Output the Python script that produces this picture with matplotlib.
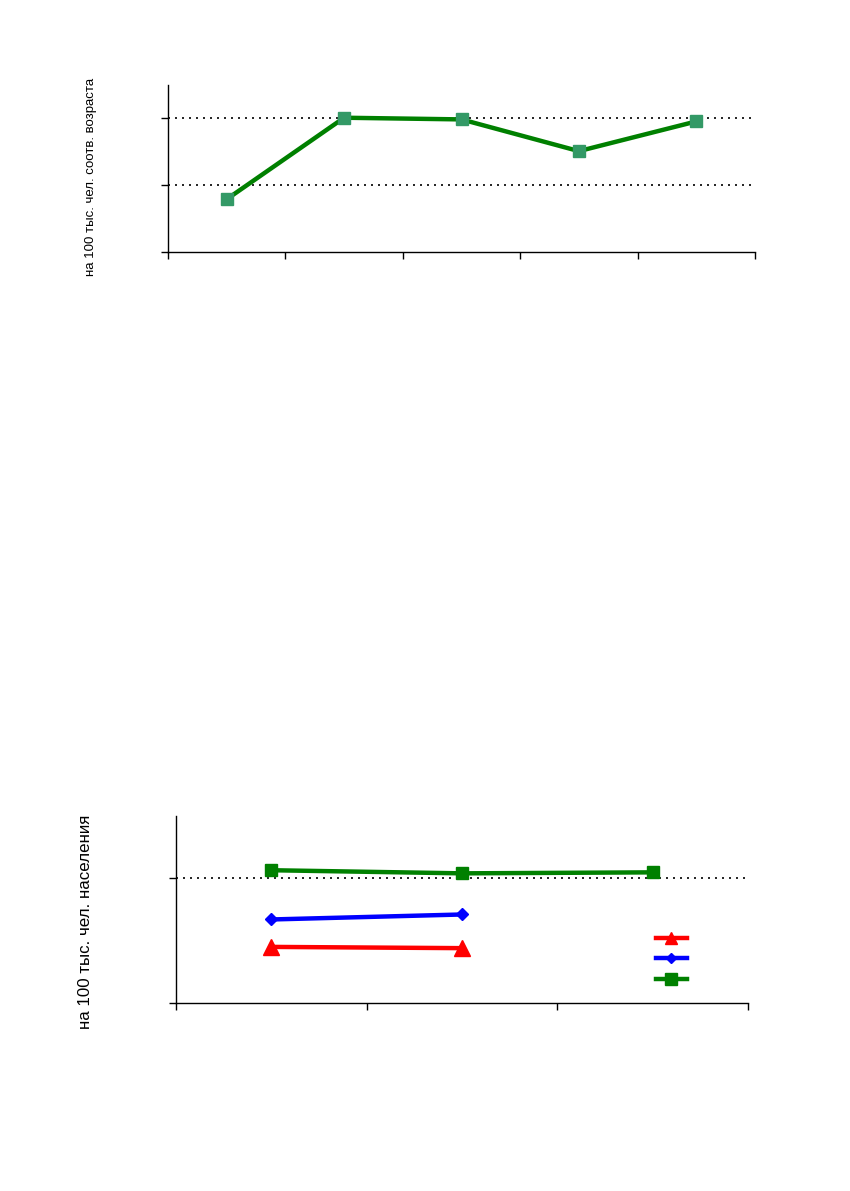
import numpy as np
import matplotlib
matplotlib.use('Agg')
import matplotlib.pyplot as plt
from matplotlib.lines import Line2D

plt.rcParams['font.family'] = ['Liberation Sans', 'DejaVu Sans']

# === Top chart: one series, five periods (labels not shown in the source) ===
TOP_VALUES = [0.79, 2.01, 1.985, 1.51, 1.955]
TOP_YLABEL = 'на 100 тыс. чел. соотв. возраста'

# === Bottom chart: three series over three periods ===
BOTTOM_RED = [0.45, 0.44]
BOTTOM_BLUE = [0.67, 0.71]
BOTTOM_GREEN = [1.065, 1.04, 1.048]
BOTTOM_YLABEL = 'на 100 тыс. чел. населения'

W, H = 850, 1191
fig = plt.figure(figsize=(W / 100, H / 100), dpi=100)


def px_axes(left, top, right, bottom):
    return fig.add_axes([left / W, 1 - bottom / H, (right - left) / W, (bottom - top) / H])


def style_axes(ax, n_cat, ymax, yticks):
    ax.set_xlim(0, n_cat)
    ax.set_ylim(0, ymax)
    ax.set_xticks(np.arange(n_cat + 1))
    ax.set_yticks(yticks)
    ax.set_xticklabels([])
    ax.set_yticklabels([])
    for s in ('top', 'right'):
        ax.spines[s].set_visible(False)
    for s in ('left', 'bottom'):
        ax.spines[s].set_linewidth(1.0)
        ax.spines[s].set_color('black')
    ax.tick_params(direction='out', length=5, width=1.0, colors='black')
    for y in yticks[1:]:
        ax.axhline(y, color='black', linestyle=(0, (1.2, 3)), linewidth=1.2, zorder=1)


# --- top ---
ax1 = px_axes(168, 85, 755, 252)
style_axes(ax1, len(TOP_VALUES), 2.5, [0, 1, 2])
x1 = np.arange(len(TOP_VALUES)) + 0.5
ax1.plot(x1, TOP_VALUES, color='#008000', linewidth=3.2, marker='s', markersize=8,
         markerfacecolor='#339966', markeredgecolor='#339966', zorder=3)
fig.text(91 / W, 1 - 177 / H, TOP_YLABEL, rotation=90, ha='center', va='center', fontsize=9.5)

# --- bottom ---
ax2 = px_axes(176, 816, 748, 1003)
style_axes(ax2, 3, 1.5, [0, 1])
ax2.plot(np.arange(len(BOTTOM_GREEN)) + 0.5, BOTTOM_GREEN, color='#008000', linewidth=3.2,
         marker='s', markersize=9, zorder=3)
ax2.plot(np.arange(len(BOTTOM_BLUE)) + 0.5, BOTTOM_BLUE, color='#0000FF', linewidth=3.2,
         marker='D', markersize=6, zorder=3)
ax2.plot(np.arange(len(BOTTOM_RED)) + 0.5, BOTTOM_RED, color='#FF0000', linewidth=3.2,
         marker='^', markersize=12, zorder=3)

handles = [
    Line2D([], [], color='#FF0000', linewidth=3.2, marker='^', markersize=8),
    Line2D([], [], color='#0000FF', linewidth=3.2, marker='D', markersize=5),
    Line2D([], [], color='#008000', linewidth=3.2, marker='s', markersize=8),
]
ax2.legend(handles, ['', '', ''], loc='center', bbox_to_anchor=(0.866, 0.234),
           frameon=False, handlelength=2.2, handletextpad=0, labelspacing=0.45,
           borderpad=0, fontsize=10)
fig.text(86 / W, 1 - 922 / H, BOTTOM_YLABEL, rotation=90, ha='center', va='center', fontsize=12.2)

fig.savefig('out.png', dpi=100)
